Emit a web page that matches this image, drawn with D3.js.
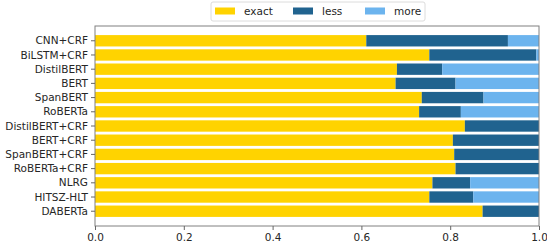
<!DOCTYPE html>
<html>
<head>
<meta charset="utf-8">
<script src="https://cdn.jsdelivr.net/npm/d3@7"></script>
<style>
  body { margin: 0; background: #fff; }
  text { font-family: "DejaVu Sans", sans-serif; }
</style>
</head>
<body>
<div id="chart"></div>
<script>
// models, top to bottom
const models = ["CNN+CRF", "BiLSTM+CRF", "DistilBERT", "BERT", "SpanBERT", "RoBERTa",
    "DistilBERT+CRF", "BERT+CRF", "SpanBERT+CRF", "RoBERTa+CRF", "NLRG", "HITSZ-HLT", "DABERTa"];
const exact = [0.611, 0.753, 0.680, 0.677, 0.736, 0.730, 0.833, 0.806, 0.809, 0.812, 0.760, 0.753, 0.873];
const less  = [0.319, 0.241, 0.102, 0.135, 0.139, 0.094, 0.167, 0.194, 0.191, 0.188, 0.085, 0.099, 0.127];
const more  = [0.070, 0.006, 0.218, 0.188, 0.125, 0.176, 0.000, 0.000, 0.000, 0.000, 0.155, 0.148, 0.000];
const xTicks = [0, 0.2, 0.4, 0.6, 0.8, 1.0];

const seriesNames = ["exact", "less", "more"];
const colors = {exact: "#ffd300", less: "#20638f", more: "#6cb4ee"};

const W = 547, H = 251;
const margin = {top: 26, right: 8, bottom: 25, left: 95};
const pw = W - margin.left - margin.right;
const ph = H - margin.top - margin.bottom;
const fs = 10.5;

const svg = d3.select("#chart").append("svg").attr("width", W).attr("height", H);
const g = svg.append("g").attr("transform", `translate(${margin.left},${margin.top})`);

const rows = models.map((m, i) => ({model: m, exact: exact[i], less: less[i], more: more[i]}));
const stacked = d3.stack().keys(seriesNames)(rows);

const x = d3.scaleLinear().domain([0, 1]).range([0, pw]);
// matplotlib-like: bar height 0.8, 5% margins
const n = models.length;
const lo = -0.4 - 0.05 * (n - 0.2), hi = n - 0.6 + 0.05 * (n - 0.2);
const y = d3.scaleLinear().domain([lo, hi]).range([0, ph]);
const bh = y(0.8) - y(0);

g.selectAll("g.series").data(stacked).join("g")
    .attr("fill", d => colors[d.key])
    .selectAll("rect").data(d => d).join("rect")
    .attr("x", d => x(d[0]))
    .attr("width", d => x(d[1]) - x(d[0]))
    .attr("y", (d, i) => y(i) - bh / 2)
    .attr("height", bh);

// frame
g.append("rect").attr("width", pw).attr("height", ph)
    .attr("fill", "none").attr("stroke", "#808080").attr("stroke-width", 1);

// y ticks
const yt = g.append("g");
models.forEach((m, i) => {
    yt.append("line").attr("x1", -4).attr("x2", 0).attr("y1", y(i)).attr("y2", y(i)).attr("stroke", "#666");
    yt.append("text").attr("x", -7).attr("y", y(i)).attr("dy", "0.35em")
        .attr("text-anchor", "end").attr("font-size", fs).attr("fill", "#262626").text(m);
});

// x axis
const xa = g.append("g").attr("transform", `translate(0,${ph})`)
    .call(d3.axisBottom(x).tickValues(xTicks).tickFormat(d3.format(".1f")).tickSize(4).tickPadding(4));
xa.select(".domain").remove();
xa.selectAll("line").attr("stroke", "#666");
xa.selectAll("text").attr("font-size", fs).attr("fill", "#262626").attr("font-family", "DejaVu Sans");

// legend
const lg = svg.append("g").attr("transform", "translate(211,2)");
lg.append("rect").attr("width", 214).attr("height", 19).attr("rx", 2)
    .attr("fill", "#fff").attr("stroke", "#dcdcdc");
const lx = [4, 82, 154];
seriesNames.forEach((s, i) => {
    lg.append("rect").attr("x", lx[i]).attr("y", 5.5).attr("width", 20).attr("height", 7).attr("fill", colors[s]);
    lg.append("text").attr("x", lx[i] + 29).attr("y", 9.5).attr("dy", "0.35em")
        .attr("font-size", fs).attr("fill", "#262626").text(s);
});
</script>
</body>
</html>
